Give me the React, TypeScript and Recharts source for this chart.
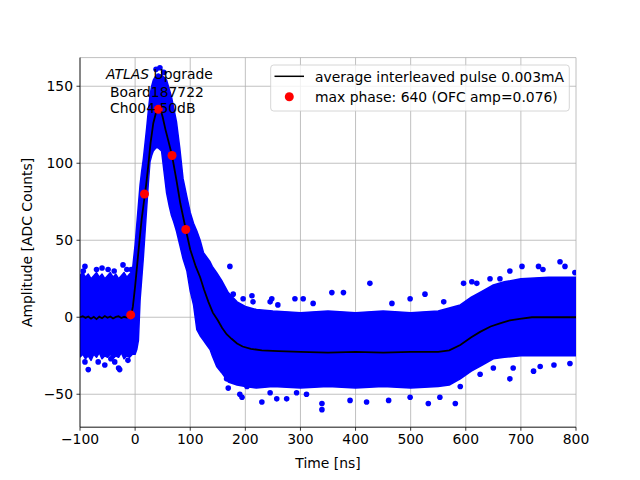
import React from 'react';
import {
  ComposedChart,
  Area,
  Line,
  Scatter,
  XAxis,
  YAxis,
  CartesianGrid,
} from 'recharts';

// blue sample cloud, read as a lower / upper envelope (ns, ADC counts)
const cloudTime = [
  -100, -95, -90, -85, -80, -75, -70, -65, -60, -55, -50, -45, -40, -35, -30, -25, -20, -15, -10, -5,
  -3, 0, 3, 6, 9, 12, 15, 18, 21, 24, 27, 30, 33, 38, 42, 48, 52, 57, 62, 66, 70, 75, 81, 87, 94,
  100, 106, 112, 118, 124, 130, 136, 140, 148, 157, 169, 185, 200, 220, 250, 300, 350, 400, 450, 500,
  550, 570, 590, 610, 630, 650, 670, 700, 750, 800,
];
const cloudLow = [
  -26, -24, -27, -25, -28, -24, -26, -23, -27, -25, -26, -24, -27, -25, -26, -23, -27, -25, -26, -24,
  -24, -24, -21, -15, 11, 25, 39, 55, 71, 87, 101, 105, 108, 110, 110, 108, 96, 81, 72, 66, 62, 56, 47, 38, 30,
  17, 8, -8, -12, -15, -18, -21, -25, -32, -36, -42, -44, -45, -46, -45, -46, -45, -46, -45, -46,
  -45, -44, -40, -35, -31, -27, -26, -25, -25, -25,
];
const cloudHigh = [
  27, 29, 26, 28, 25, 27, 29, 26, 28, 25, 27, 29, 26, 28, 25, 27, 29, 26, 28, 30,
  37, 47, 60, 73, 86, 95, 103, 113, 123, 134, 144, 150, 154, 157, 158, 157, 156, 154, 148, 143, 136, 127, 110, 90, 78,
  68, 61, 56, 50, 42, 39, 36, 33, 29, 24, 16, 10, 7, 5, 4, 3, 4, 3, 4, 3,
  4, 6, 8, 13, 17, 21, 23, 25, 26, 26,
];

// stray samples outside the dense cloud
const strayTime = [
  -91, -49, -22, -7, -94, -70, -60, -38, -15,
  -91, -85, -67, -55, -37, -28, -13, -44, -30,
  172, 178, 196, 212, 214, 248, 259, 290, 305, 323, 245,
  166, 169, 190, 194, 203, 230, 245, 257, 275, 293, 311,
  357, 378, 426, 466, 499, 526, 596, 611, 644, 662, 702, 732, 771, 780, 798, 560, 620, 680, 740,
  339, 339, 390, 420, 460, 499, 532, 553, 581, 590, 626, 680, 723, 789, 686, 735, 760, 650,
  38, 45, 52,
];
const strayAmp = [
  33, 31, 34, 31, 30, 31, 32, 30, 31,
  -29, -34, -29, -31, -29, -34, -28, -27, -33,
  33, 15, 12, 14, 10, 12, 8, 12, 12, 9, 10,
  -40, -46, -50, -52, -45, -55, -49, -53, -53, -49, -50,
  16, 16, 22, 9, 12, 15, 22, 23, 25, 25, 33, 33, 36, 33, 29, 10, 22, 30, 31,
  -56, -60, -54, -55, -54, -52, -56, -52, -56, -45, -37, -40, -35, -30, -33, -32, -31, -33,
  161, 162, 159,
];

// average interleaved pulse
const avgTime = [
  -100, -95, -90, -85, -80, -75, -70, -65, -60, -55, -50, -45, -40, -35, -30, -25, -20, -15, -10,
  -7, -4, 0, 4, 8, 12, 16, 20, 24, 28, 33, 38,
  42, 46, 50, 55, 60, 67, 75, 82, 92, 100, 110, 118, 125, 133, 141, 150, 158, 166, 175, 185, 195,
  210, 230, 260, 300, 350, 400, 450, 500, 550, 570, 590, 610, 626, 645, 662, 680, 698, 720, 760, 800,
];
const avgAmp = [
  0, 0.6, -0.4, 0.5, -0.9, 0.3, -1.2, 0.4, -0.6, 0.8, -0.3, 0.5, -0.8, 0.2, 0.6, -0.5, 0.3, -0.2, 0.4,
  1.5, 7, 20, 35, 50, 64, 75, 86, 99, 113, 126, 133,
  136, 135, 130, 122, 115, 105, 89, 74, 57, 44, 33, 26, 18, 10, 3, -2, -7, -11, -14, -17, -19,
  -20.5, -21.5, -22, -22.5, -23, -22.5, -23, -22.5, -22.5, -21.5, -18, -13, -9.5, -6, -4, -2, -1, 0, 0, 0,
];

// max phase samples
const phaseTime = [-8, 17, 42, 67, 92];
const phaseAmp = [1.5, 80, 135, 105, 57];

const xTicks = [-100, 0, 100, 200, 300, 400, 500, 600, 700, 800];
const yTicks = [-50, 0, 50, 100, 150];

const cloudData = cloudTime.map((t, i) => ({ t, range: [cloudLow[i], cloudHigh[i]] }));
const strayData = strayTime.map((t, i) => ({ t, v: strayAmp[i] }));
const avgData = avgTime.map((t, i) => ({ t, v: avgAmp[i] }));
const phaseData = phaseTime.map((t, i) => ({ t, v: phaseAmp[i] }));

const FONT = 'DejaVu Sans, sans-serif';
const tickStyle = { fontSize: 13.9, fill: '#000', fontFamily: FONT };
const minus = (v: number) => String(v).replace('-', '\u2212');

export default function App() {
  return (
    <div style={{ position: 'absolute', left: 0, top: 0, background: '#fff' }}>
      <ComposedChart width={640} height={480} margin={{ top: 57.6, right: 64, bottom: 0, left: 0 }}>
        <CartesianGrid stroke="#b0b0b0" strokeWidth={0.8} />
        <XAxis
          dataKey="t"
          type="number"
          domain={[-100, 800]}
          ticks={xTicks}
          allowDataOverflow
          height={52.8}
          tick={tickStyle}
          tickSize={3.5}
          tickMargin={3.5}
          tickLine={{ stroke: '#000', strokeWidth: 0.8 }}
          axisLine={{ stroke: '#000', strokeWidth: 0.8 }}
          tickFormatter={minus}
        />
        <XAxis
          xAxisId="top"
          orientation="top"
          type="number"
          domain={[-100, 800]}
          height={0}
          tick={false}
          tickLine={false}
          axisLine={{ stroke: '#000', strokeWidth: 0.8 }}
        />
        <YAxis
          type="number"
          domain={[-71.4, 168.6]}
          ticks={yTicks}
          allowDataOverflow
          width={80}
          tick={tickStyle}
          tickSize={3.5}
          tickMargin={3.5}
          tickLine={{ stroke: '#000', strokeWidth: 0.8 }}
          axisLine={{ stroke: '#000', strokeWidth: 0.8 }}
          tickFormatter={minus}
        />
        <YAxis
          yAxisId="right"
          orientation="right"
          type="number"
          domain={[-71.4, 168.6]}
          width={0}
          tick={false}
          tickLine={false}
          axisLine={{ stroke: '#000', strokeWidth: 0.8 }}
        />
        <Area
          data={cloudData}
          dataKey="range"
          type="linear"
          stroke="#0000ff"
          strokeWidth={1.5}
          strokeLinejoin="round"
          fill="#0000ff"
          fillOpacity={1}
          isAnimationActive={false}
        />
        <Scatter
          data={strayData}
          dataKey="v"
          fill="#0000ff"
          shape={(p: any) => <circle cx={p.cx} cy={p.cy} r={2.8} fill="#0000ff" />}
          isAnimationActive={false}
        />
        <Line
          data={avgData}
          dataKey="v"
          type="linear"
          stroke="#000"
          strokeWidth={1.8}
          dot={false}
          isAnimationActive={false}
        />
        <Scatter
          data={phaseData}
          dataKey="v"
          fill="#ff0000"
          shape={(p: any) => <circle cx={p.cx} cy={p.cy} r={4.5} fill="#ff0000" />}
          isAnimationActive={false}
        />
      </ComposedChart>

      <svg width={640} height={480} style={{ position: 'absolute', left: 0, top: 0, pointerEvents: 'none' }}>
        <g fontFamily={FONT} fontSize={13.9} fill="#000">
          <text x={106} y={79.3}>
            <tspan fontStyle="italic">ATLAS</tspan> Upgrade
          </text>
          <text x={110} y={96.7}>Board187722</text>
          <text x={110} y={113.3}>Ch004 50dB</text>

          <rect x={270.7} y={65} width={298.6} height={46} rx={3} fill="#fff" fillOpacity={0.8} stroke="#cccccc" strokeWidth={0.8} />
          <line x1={274.5} y1={76.3} x2={304} y2={76.3} stroke="#000" strokeWidth={1.5} />
          <text x={315} y={81.5}>average interleaved pulse 0.003mA</text>
          <circle cx={289.3} cy={96.8} r={4.5} fill="#ff0000" />
          <text x={315} y={101.8}>max phase: 640 (OFC amp=0.076)</text>

          <text x={328} y={468} textAnchor="middle">Time [ns]</text>
          <text x={27} y={242.4} textAnchor="middle" dominantBaseline="central" transform="rotate(-90 27 242.4)">
            Amplitude [ADC Counts]
          </text>
        </g>
      </svg>
    </div>
  );
}
